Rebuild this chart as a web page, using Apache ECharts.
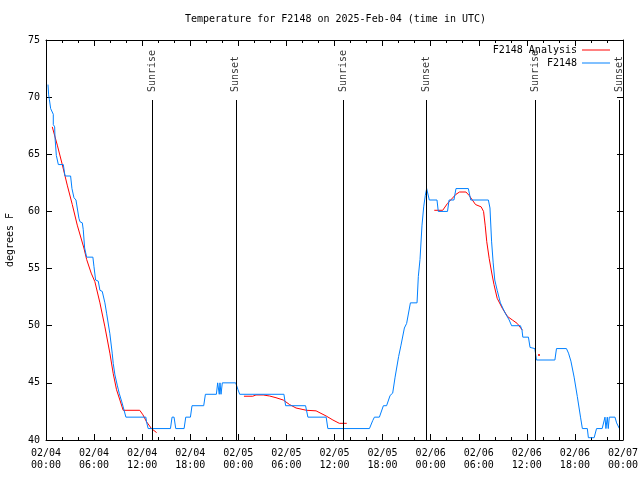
<!DOCTYPE html>
<html><head><meta charset="utf-8">
<script src="https://cdn.jsdelivr.net/npm/echarts@6/dist/echarts.min.js"></script>
<style>html,body{margin:0;padding:0;background:#fff}#c{width:640px;height:480px}</style>
</head><body><div id="c"></div>
<script>
const chartTitle = 'Temperature for F2148 on 2025-Feb-04 (time in UTC)';
const yAxisName = 'degrees F';
const seriesNames = ['F2148 Analysis', 'F2148'];
// x ticks (hours since 02/04 00:00 UTC) and their labels
const tickHours = [0, 6, 12, 18, 24, 30, 36, 42, 48, 54, 60, 66, 72];
const tickLabels = ['02/04\n00:00','02/04\n06:00','02/04\n12:00','02/04\n18:00','02/05\n00:00','02/05\n06:00','02/05\n12:00','02/05\n18:00','02/06\n00:00','02/06\n06:00','02/06\n12:00','02/06\n18:00','02/07\n00:00'];
const yTicks = [40, 45, 50, 55, 60, 65, 70, 75];
// sunrise / sunset markers
const sunEventHours = [13.27, 23.68, 37.12, 47.5, 61.08, 71.55];
const sunEventNames = ['Sunrise', 'Sunset', 'Sunrise', 'Sunset', 'Sunrise', 'Sunset'];
const markerTop = 69.75;
// observed F2148 temperatures [hour, degF]
const observed = [[0.25,71.1],[0.33,70.2],[0.42,69.8],[0.58,69.0],[0.79,69.0],[0.91,68.5],[0.91,67.6],[1.08,67.4],[1.12,66.5],[1.29,64.9],[1.54,64.1],[2.16,64.1],[2.37,63.1],[3.07,63.1],[3.24,62.0],[3.49,61.2],[3.74,61.0],[3.9,60.3],[4.11,59.4],[4.24,59.1],[4.53,59.0],[4.65,58.4],[4.82,56.8],[5.07,56.0],[5.85,56.0],[5.98,55.2],[6.19,54.0],[6.52,53.9],[6.73,53.1],[7.02,53.0],[7.35,52.0],[7.56,51.1],[7.97,49.3],[8.26,47.6],[8.39,46.7],[8.6,45.7],[8.89,44.8],[9.13,44.1],[9.43,43.4],[9.63,42.9],[9.97,42.0],[12.46,42.0],[12.54,41.6],[12.75,41.0],[15.53,41.0],[15.73,42.0],[15.98,42.0],[16.19,41.0],[17.23,41.0],[17.44,42.0],[18.02,42.0],[18.22,43.0],[19.68,43.0],[19.89,44.0],[21.26,44.0],[21.42,45.0],[21.5,45.0],[21.62,44.0],[21.71,45.0],[21.84,44.0],[22.0,45.0],[23.67,45.0],[23.96,44.4],[24.17,44.0],[29.69,44.0],[29.9,43.0],[32.39,43.0],[32.68,42.0],[34.96,42.0],[35.17,41.0],[40.36,41.0],[40.77,41.7],[40.98,42.0],[41.6,42.0],[42.1,43.0],[42.5,43.0],[42.94,43.9],[43.26,44.1],[43.56,45.5],[44.0,47.3],[44.3,48.3],[44.72,49.8],[45.0,50.2],[45.47,52.0],[46.3,52.0],[46.46,54.3],[46.67,55.8],[46.92,58.8],[47.13,60.4],[47.33,61.4],[47.5,62.0],[47.83,61.0],[48.79,61.0],[48.95,60.0],[50.1,60.0],[50.3,61.0],[50.9,61.0],[51.16,62.0],[52.7,62.0],[53.0,61.0],[55.2,61.0],[55.4,60.3],[55.6,57.4],[55.8,55.5],[56.0,54.0],[56.3,53.1],[56.7,52.0],[57.3,51.1],[57.8,50.5],[58.1,50.0],[59.2,50.0],[59.4,49.6],[59.5,49.0],[60.2,49.0],[60.4,48.1],[60.5,48.0],[61.0,48.0],[61.2,47.0],[63.5,47.0],[63.7,48.0],[64.94,48.0],[65.2,47.6],[65.5,46.9],[65.9,45.5],[66.3,43.8],[66.7,42.0],[66.93,41.0],[67.55,41.0],[67.68,40.2],[68.4,40.2],[68.7,41.0],[69.4,41.0],[69.75,42.0],[69.87,41.0],[70.04,42.0],[70.16,41.0],[70.29,42.0],[71.0,42.0],[71.2,41.5],[71.55,41.0]];
// analysis segments [hour, degF]
const analysisSeg1 = [[0.78,67.4],[1.41,65.8],[2.03,64.1],[2.65,62.3],[3.28,60.6],[3.9,58.8],[4.73,56.8],[5.07,55.8],[5.64,54.6],[6.1,53.85],[6.73,52.0],[7.35,49.9],[7.97,47.6],[8.39,45.8],[8.8,44.4],[9.22,43.5],[9.63,42.6],[9.84,42.6],[11.7,42.6],[12.1,42.2],[12.54,41.6],[13.16,41.0],[13.8,40.65]];
const analysisSeg2 = [[24.7,43.83],[25.8,43.83],[26.2,43.94],[27.1,43.94],[27.9,43.85],[28.7,43.7],[29.6,43.5],[30.4,43.1],[31.2,42.8],[32.5,42.6],[33.7,42.55],[34.96,42.1],[35.8,41.75],[36.6,41.46],[37.53,41.46]];
const analysisSeg3 = [[48.45,60.1],[49.5,60.1],[50.1,60.7],[50.5,61.0],[51.16,61.5],[51.6,61.7],[52.4,61.7],[52.8,61.4],[53.2,61.0],[53.6,60.6],[54.3,60.4],[54.6,60.0],[54.8,58.8],[55.0,57.35],[55.3,55.9],[55.6,54.7],[55.9,53.6],[56.3,52.4],[56.96,51.5],[57.6,50.8],[58.2,50.5],[58.8,50.2],[59.46,49.6]];
const analysisDot = [[61.52,47.44]];

const FONT = 'DejaVu Sans Mono';
const RED = '#ff0000', BLUE = '#0080ff';
const chart = echarts.init(document.getElementById('c'), null, {renderer: 'canvas'});
const axisLineStyle = {show: true, onZero: false, lineStyle: {color: '#000', width: 1}};
const tickStyle = {show: true, inside: true, length: 6, lineStyle: {color: '#000', width: 1}};
function xFmt(v) { const i = tickHours.indexOf(v); return i >= 0 ? tickLabels[i] : ''; }
function yFmt(v) { return yTicks.indexOf(v) >= 0 ? String(v) : ''; }
const anaLine = (data) => ({name: seriesNames[0], type: 'line', data, symbol: 'none', showSymbol: false,
  lineStyle: {color: RED, width: 1}, itemStyle: {color: RED}, animation: false, silent: true, z: 2});

chart.setOption({
  animation: false,
  backgroundColor: '#fff',
  title: {text: chartTitle, left: 185, top: 14, padding: 0,
    textStyle: {fontFamily: FONT, fontSize: 10, fontWeight: 'normal', color: '#000'}},
  grid: {left: 46, right: 17, top: 40, bottom: 40, containLabel: false, outerBoundsMode: 'none'},
  legend: {orient: 'vertical', right: 30, top: 44, align: 'right', padding: 0,
    data: seriesNames.map(n => ({name: n, icon: 'rect'})),
    itemWidth: 28, itemHeight: 1, itemGap: 1, selectedMode: false,
    textStyle: {fontFamily: FONT, fontSize: 10, color: '#000', lineHeight: 12}},
  xAxis: [
    {type: 'value', min: 0, max: 72, interval: 6, position: 'bottom', axisLine: axisLineStyle, axisTick: tickStyle,
      minorTick: {show: true, splitNumber: 3, length: 3, lineStyle: {color: '#000'}},
      splitLine: {show: false},
      axisLabel: {formatter: xFmt, fontFamily: FONT, fontSize: 10, color: '#000', lineHeight: 12, margin: 7, showMinLabel: true, showMaxLabel: true}},
    {type: 'value', min: 0, max: 72, interval: 6, position: 'top', axisLine: axisLineStyle, axisTick: tickStyle,
      minorTick: {show: true, splitNumber: 3, length: 3, lineStyle: {color: '#000'}},
      splitLine: {show: false}, axisLabel: {show: false}}
  ],
  yAxis: [
    {type: 'value', min: 40, max: 75, interval: 5, position: 'left', axisLine: axisLineStyle, axisTick: tickStyle,
      splitLine: {show: false},
      axisLabel: {formatter: yFmt, fontFamily: FONT, fontSize: 10, color: '#000', margin: 6},
      name: yAxisName, nameLocation: 'middle', nameGap: 31, nameRotate: 90,
      nameTextStyle: {fontFamily: FONT, fontSize: 10, color: '#000'}},
    {type: 'value', min: 40, max: 75, interval: 5, position: 'right', axisLine: axisLineStyle, axisTick: tickStyle,
      splitLine: {show: false}, axisLabel: {show: false}}
  ],
  series: [
    anaLine(analysisSeg1), anaLine(analysisSeg2), anaLine(analysisSeg3),
    {name: seriesNames[0], type: 'scatter', data: analysisDot, symbol: 'rect', symbolSize: 2,
      itemStyle: {color: RED}, silent: true},
    {name: seriesNames[1], type: 'line', data: observed, symbol: 'none', showSymbol: false,
      lineStyle: {color: BLUE, width: 1}, itemStyle: {color: BLUE}, silent: true, z: 3,
      markLine: {silent: true, symbol: ['none', 'none'], label: {show: false},
        lineStyle: {color: '#000', width: 1, type: 'solid'},
        data: sunEventHours.map(h => [{coord: [h, 40]}, {coord: [h, markerTop]}])}},
    {name: 'sun', type: 'scatter', symbolSize: 0, silent: true, z: 4,
      data: sunEventHours.map((h, i) => ({value: [h, markerTop], name: sunEventNames[i]})),
      label: {show: true, formatter: '{b}', position: 'top', distance: 8, rotate: 90, align: 'left', verticalAlign: 'middle',
        fontFamily: FONT, fontSize: 10, color: '#000'}}
  ]
});
</script></body></html>
